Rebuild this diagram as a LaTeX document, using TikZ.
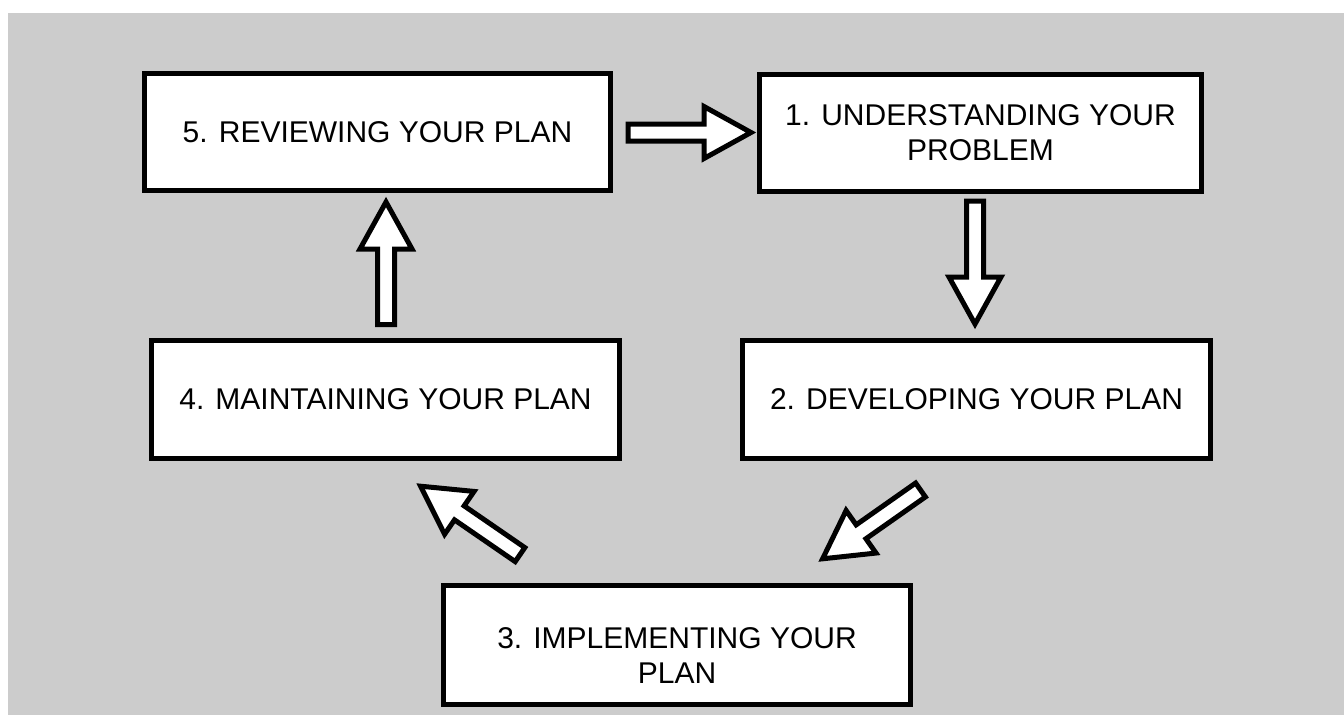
\documentclass[tikz,border=0pt]{standalone}
\usepackage{fontspec}
\setmainfont{Liberation Sans}
\usepackage{tikz}
\usetikzlibrary{positioning,calc}
\definecolor{bggray}{HTML}{CCCCCC}

\tikzset{
  stage/.style={draw=black, line width=5pt, fill=white, align=center, inner sep=0pt,
    minimum height=117pt, font=\fontsize{30}{35}\selectfont},
  blockarrow/.style={draw=black, fill=white, line width=5pt, line join=miter,
    to path={($(\tikztostart)!8.5pt!90:(\tikztotarget)$)
      -- ($($(\tikztotarget)!47pt!(\tikztostart)$)!8.5pt!90:(\tikztotarget)$)
      -- ($($(\tikztotarget)!47pt!(\tikztostart)$)!26pt!90:(\tikztotarget)$)
      -- (\tikztotarget)
      -- ($($(\tikztotarget)!47pt!(\tikztostart)$)!26pt!-90:(\tikztotarget)$)
      -- ($($(\tikztotarget)!47pt!(\tikztostart)$)!8.5pt!-90:(\tikztotarget)$)
      -- ($(\tikztostart)!8.5pt!-90:(\tikztotarget)$) -- cycle}}
}

\begin{document}
\begin{tikzpicture}[x=1pt,y=-1pt]
    \useasboundingbox (0,0) rectangle (1344,715);
    \fill[bggray] (8,13) rectangle (1344,715);
    % the five stages
    \node[stage, minimum width=466pt] (b5) at (377.5,132) {5. REVIEWING YOUR PLAN};
    \node[stage, minimum width=442pt] (b1) at (980.5,132.5) {1. UNDERSTANDING YOUR\\PROBLEM};
    \node[stage, minimum width=468pt, minimum height=118pt] (b4) at (385.5,399.5) {4. MAINTAINING YOUR PLAN};
    \node[stage, minimum width=468pt, minimum height=118pt] (b2) at (976.5,399.5) {2. DEVELOPING YOUR PLAN};
    \node[stage, minimum width=467pt, minimum height=119pt] (b3) at (677,645) {\rule{0pt}{42pt}3. IMPLEMENTING YOUR\\PLAN};
    % arrows round the cycle
    \draw[blockarrow] ($(b5.east)+(15,0.5)$) to ($(b1.west)+(-6,0)$);
    \draw[blockarrow] ($(b1.south)+(-5.5,7.5)$) to ($(b2.north)+(-1.5,-14)$);
    \draw[blockarrow] ($(b2.south)+(-56,29)$) to ($(b3.north east)+(-90.4,-24.2)$);
    \draw[blockarrow] ($(b3.north west)+(79,-28.4)$) to ($(b4.south)+(35.1,25.2)$);
    \draw[blockarrow] ($(b4.north)+(0.5,-13.5)$) to ($(b5.south)+(8.5,9)$);
\end{tikzpicture}
\end{document}
